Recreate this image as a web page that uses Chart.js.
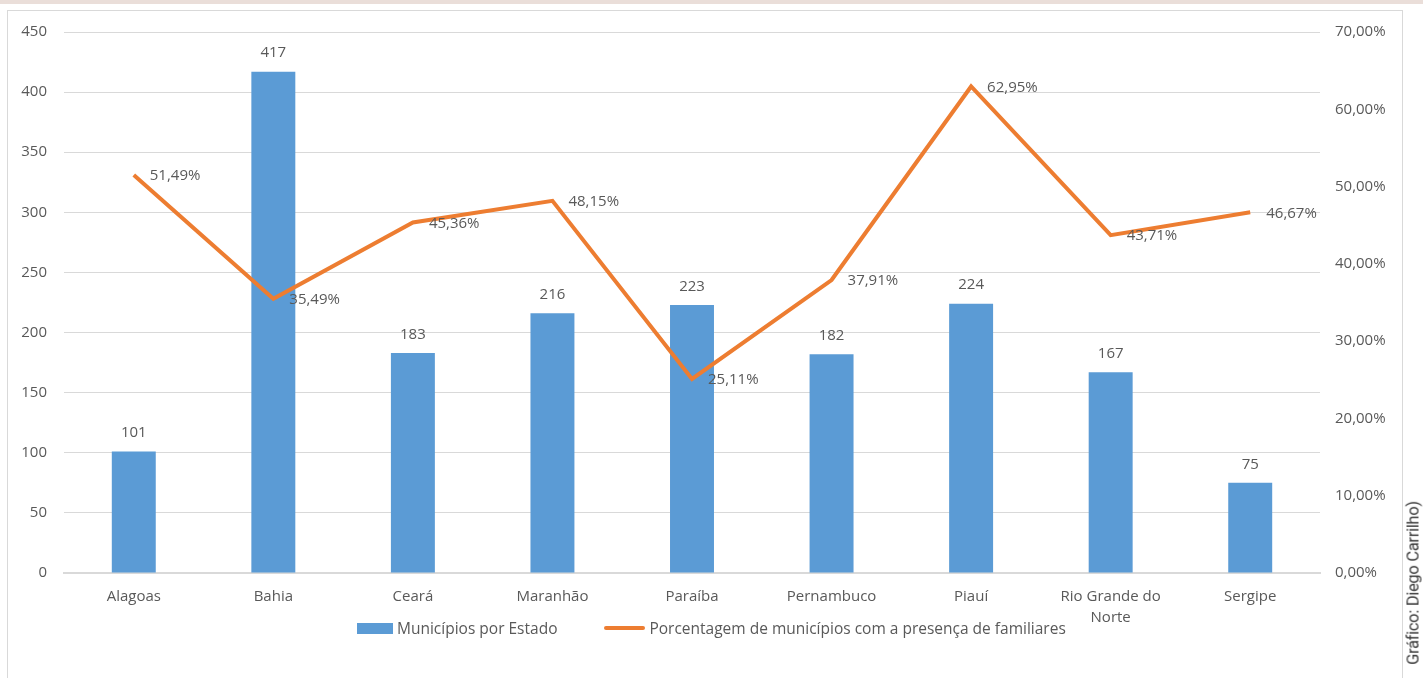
<!DOCTYPE html>
<html>
<head>
<meta charset="utf-8">
<script src="https://cdn.jsdelivr.net/npm/chart.js@4.4.1/dist/chart.umd.min.js"></script>
<style>
  body { margin: 0; background: #fff; width: 1423px; height: 678px; overflow: hidden; position: relative; }
  #band { position: absolute; left: 0; top: 0; width: 1423px; height: 4px; background: #eaded9; }
  #frame { position: absolute; left: 7px; top: 10px; width: 1394px; height: 700px; border: 1px solid #d9d9d9; }
  #wrap { position: absolute; left: 0; top: 0; width: 1423px; height: 678px; }
  #credit { position: absolute; left: 1413px; top: 583px; transform: translate(-50%, -50%) rotate(-90deg);
    white-space: nowrap; font-family: "Liberation Sans Narrow", "Roboto", sans-serif; font-size: 16.5px; color: #3a3a3a; letter-spacing: -0.3px; }
  #legenda { position: absolute; top: 618px; left: 357px; height: 20px; display: flex; align-items: center;
    font-family: 'Open Sans', sans-serif; font-size: 15.5px; color: #595959; white-space: nowrap; }
  .caixa { display: inline-block; width: 36px; height: 11px; background: #5b9bd5; margin-right: 4px; }
  .traco { display: inline-block; width: 41px; height: 4px; border-radius: 2px; background: #ed7d31; margin-right: 4px; margin-left: 47px; }
</style>
</head>
<body>
<div id="band"></div>
<div id="frame"></div>
<div id="wrap"><canvas id="grafico"></canvas></div>
<div id="legenda"></div>
<div id="credit">Gráfico: Diego Carrilho)</div>
<script>
var estados = ["Alagoas", "Bahia", "Ceará", "Maranhão", "Paraíba", "Pernambuco", "Piauí", ["Rio Grande do", "Norte"], "Sergipe"]
var municipios = [101, 417, 183, 216, 223, 182, 224, 167, 75]
var porcentagem = [51.49, 35.49, 45.36, 48.15, 25.11, 37.91, 62.95, 43.71, 46.67]
var nomesSeries = ["Municípios por Estado", "Porcentagem de municípios com a presença de familiares"]

var fonte = "'Open Sans', sans-serif"
var cinza = "#595959"

function pct(v) { return v.toFixed(2).replace(".", ",") + "%" }

// rotulos de dados (barras em cima, linha a direita)
var rotulos = {
    id: "rotulos",
    afterDatasetsDraw: function(chart) {
        var ctx = chart.ctx
        ctx.save()
        ctx.font = "15px " + fonte
        ctx.fillStyle = cinza
        chart.getDatasetMeta(0).data.forEach(function(bar, i) {
            ctx.textAlign = "center"
            ctx.textBaseline = "bottom"
            ctx.fillText(municipios[i], bar.x, bar.y - 11)
        })
        chart.getDatasetMeta(1).data.forEach(function(pt, i) {
            ctx.textAlign = "left"
            ctx.textBaseline = "middle"
            ctx.fillText(pct(porcentagem[i]), pt.x + 16, pt.y + 1)
        })
        ctx.restore()
    }
}

var ctx = document.getElementById("grafico")
var myChart = new Chart(ctx, {
    data: {
        labels: estados,
        datasets: [{
            type: "bar",
            label: nomesSeries[0],
            data: municipios,
            backgroundColor: "#5b9bd5",
            yAxisID: "y",
            categoryPercentage: 1,
            barPercentage: 0.315,
            order: 2
        }, {
            type: "line",
            label: nomesSeries[1],
            data: porcentagem,
            borderColor: "#ed7d31",
            backgroundColor: "#ed7d31",
            borderWidth: 4,
            pointRadius: 0,
            tension: 0,
            yAxisID: "y1",
            order: 1
        }]
    },
    options: {
        responsive: true,
        maintainAspectRatio: false,
        animation: false,
        layout: { padding: { left: 8, right: 20, top: 32, bottom: 45 } },
        plugins: {
            tooltip: { enabled: false },
            legend: { display: false }
        },
        scales: {
            x: {
                grid: { display: false },
                border: { color: "#d9d9d9", width: 2 },
                ticks: { font: { family: fonte, size: 15, lineHeight: 1.4 }, color: cinza, padding: 5, maxRotation: 0, autoSkip: false },
                afterFit: function(s) { s.height = 60 }
            },
            y: {
                position: "left",
                min: 0, max: 450,
                ticks: { stepSize: 50, font: { family: fonte, size: 15 }, color: cinza, padding: 17 },
                grid: { color: "#d9d9d9", drawTicks: false },
                border: { display: false },
                afterFit: function(s) { s.width = 56 }
            },
            y1: {
                position: "right",
                min: 0, max: 70,
                ticks: { stepSize: 10, font: { family: fonte, size: 15 }, color: cinza, padding: 15, callback: function(v) { return pct(v) } },
                grid: { display: false, drawTicks: false },
                border: { display: false },
                afterFit: function(s) { s.width = 83 }
            }
        }
    },
    plugins: [rotulos]
})

// legenda em HTML
var leg = document.getElementById("legenda")
leg.innerHTML = '<span class="caixa"></span>' + nomesSeries[0] + '<span class="traco"></span>' + nomesSeries[1]
</script>
</body>
</html>
